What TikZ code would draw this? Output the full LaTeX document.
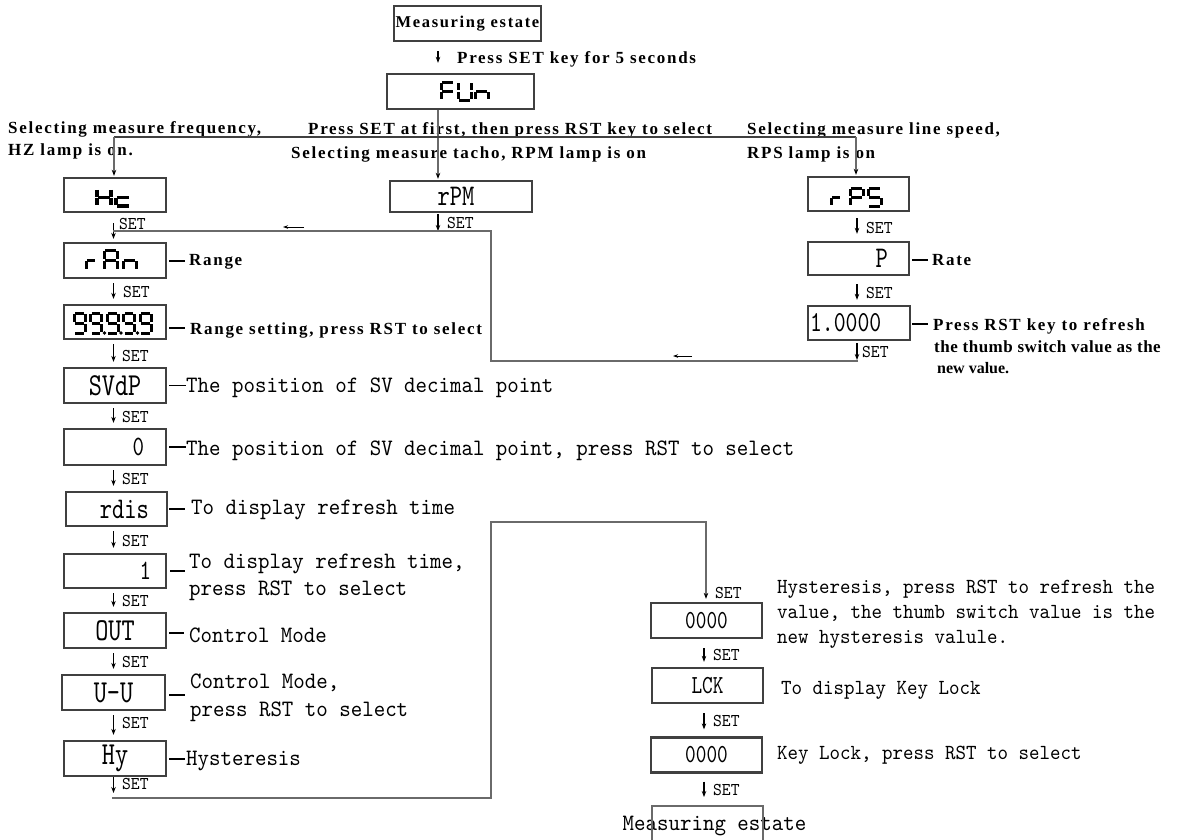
\documentclass[tikz,border=0pt]{standalone}
\usepackage{fontspec}
\setmainfont{Liberation Serif}
\newfontfamily\bfnt[LetterSpace=10]{Liberation Serif}
\newfontfamily\bfntm[LetterSpace=3]{Liberation Serif}
\newfontfamily\bfntz[LetterSpace=0]{Liberation Serif}
\newfontfamily\mfnt[FakeStretch=0.93]{lmmono10-regular.otf}
\newfontfamily\dfnt[FakeStretch=0.78]{lmmono10-regular.otf}
\usetikzlibrary{arrows.meta,calc}
\definecolor{boxc}{HTML}{404040}
\definecolor{linec}{HTML}{6A6A6A}
\newcommand\btf{\bfnt\bfseries\fontsize{17}{20}\selectfont}
\newcommand\btfm{\bfntm\bfseries\fontsize{17}{20}\selectfont}
\newcommand\btfz{\bfntz\bfseries\fontsize{16}{20}\selectfont}
\newcommand\mtf{\mfnt\fontsize{23.5}{26}\selectfont}
\newcommand\mtfs{\mfnt\fontsize{21.5}{24}\selectfont}
\newcommand\stf{\mfnt\fontsize{18}{18}\selectfont}
\newcommand\dtf[1]{\dfnt\fontsize{#1}{#1}\selectfont}
% seven-segment glyphs: segments as x1/y1/x2/y2 in a 1 x 2 cell
\newcommand\sgA{0/0/1/0,1/0/1/1,1/1/1/2,0/1/0/2,0/0/0/1,0/1/1/1}
\newcommand\sgC{0/2/1/2,0/1/0/2,0/1/1/1}
\newcommand\sgF{0/0/1/0,0/0/0/1,0/1/0/2,0/1/1/1}
\newcommand\sgH{1/0/1/1,1/1/1/2,0/1/0/2,0/0/0/1,0/1/1/1}
\newcommand\sgN{1/1/1/2,0/1/0/2,0/1/1/1}
\newcommand\sgP{0/0/1/0,1/0/1/1,0/1/0/2,0/0/0/1,0/1/1/1}
\newcommand\sgR{0/1/0/2,0/1/1/1}
\newcommand\sgS{0/0/1/0,1/1/1/2,0/2/1/2,0/0/0/1,0/1/1/1}
\newcommand\sgU{1/0/1/1,1/1/1/2,0/2/1/2,0/1/0/2,0/0/0/1}
\newcommand\sgNine{0/0/1/0,1/0/1/1,1/1/1/2,0/2/1/2,0/0/0/1,0/1/1/1}
\newcommand\sevseg[5]{\foreach \qa/\qb/\qc/\qd in #5 {\draw[segs] ({#1+\qa*#3},{#2+\qb*#4}) -- ({#1+\qc*#3},{#2+\qd*#4});}}
\tikzset{
  dbox/.style={draw=boxc, line width=2.3pt, inner sep=0pt},
  conn/.style={draw=linec, line width=1.3pt},
  garr/.style={conn, -{Stealth[length=6pt,width=4.5pt,black]}},
  arr/.style={draw=black, line width=1.1pt, -{Stealth[length=6pt,width=4.5pt]}},
  larr/.style={arr, shorten <=4pt, shorten >=5pt},
  sarr/.style={draw=black, line width=1pt, -{Stealth[length=5pt,width=3.5pt]}},
  dsh/.style={draw=black, line width=1.1pt},
  segs/.style={draw=black, line width=3pt, shorten <=1.3pt, shorten >=1.3pt},
  btxt/.style={font=\btf, inner sep=0pt, anchor=base west},
  mtxt/.style={font=\mtf, inner sep=0pt, anchor=base west},
  ntxt/.style={font=\mtfs, inner sep=0pt, anchor=base west},
  setl/.style={font=\stf, inner sep=0pt, anchor=base west},
}
\begin{document}
\begin{tikzpicture}[x=1pt, y=-1pt]
\fill[white] (0,0) rectangle (1178,839);
\useasboundingbox (0,0) rectangle (1178,839);

% ---------- boxes ----------
\node[dbox, minimum width=147pt, minimum height=35pt, font={\bfnt\bfseries\fontsize{16.5}{20}\selectfont}] (me) at (467.5,23.5) {Measuring estate};
\node[dbox, minimum width=147pt, minimum height=35pt] (fun) at (460.5,91.5) {};
\node[dbox, minimum width=102pt, minimum height=34pt] (hc) at (115,195) {};
\node[dbox, minimum width=142pt, minimum height=31pt, font={\dtf{30}}] (rpm) at (461,196.5) {rPM\hspace*{10pt}};
\node[dbox, minimum width=101pt, minimum height=34pt] (rps) at (858.5,194) {};
\node[dbox, minimum width=102pt, minimum height=35pt] (ran) at (115,260.5) {};
\node[dbox, minimum width=102pt, minimum height=34pt] (rng) at (115,322) {};
\node[dbox, minimum width=102pt, minimum height=35pt, font={\dtf{32}}] (svdp) at (115,385.5) {SVdP};
\node[dbox, minimum width=102pt, minimum height=36pt, font={\dtf{28}}] (zero) at (115,447) {\makebox[58pt][r]{0}};
\node[dbox, minimum width=101pt, minimum height=34pt, font={\dtf{30}}] (rdis) at (116.5,509) {\makebox[65pt][r]{rdis}};
\node[dbox, minimum width=102pt, minimum height=34pt, font={\dtf{28}}] (one) at (115,571) {\makebox[72pt][r]{1}};
\node[dbox, minimum width=102pt, minimum height=35pt, font={\dtf{32}}] (out) at (115,630.5) {OUT};
\node[dbox, minimum width=103pt, minimum height=35pt, font={\dtf{32}}] (uu) at (113.5,692.5) {U-U};
\node[dbox, minimum width=102pt, minimum height=35pt, font={\dtf{32}}] (hy) at (115,758.5) {Hy};
\node[dbox, minimum width=101pt, minimum height=33pt, font={\dtf{30}}] (p) at (858.5,258.5) {\makebox[59pt][r]{P}};
\node[dbox, minimum width=102pt, minimum height=34pt, font={\dtf{29}}] (onek) at (859,323) {\makebox[98pt][l]{1.0000}};
\node[dbox, minimum width=111pt, minimum height=35pt, font={\dtf{26}}] (hys) at (706.5,620.5) {0000};
\node[dbox, minimum width=111pt, minimum height=35pt, font={\dtf{26}}] (lck) at (707.5,685.5) {LCK};
\node[dbox, minimum width=111pt, minimum height=35pt, font={\dtf{26}}] (lock) at (706.5,755) {0000};
\node[mtxt, anchor=base] (endtxt) at (714.5,830) {Measuring estate};
\node[draw=linec, line width=2pt, minimum width=111pt, minimum height=50pt] (endbox) at (707.5,831) {};

% ---------- seven-segment glyphs ----------
\sevseg{441}{82}{13}{9}{\sgF}
\sevseg{458}{82}{13}{9}{\sgU}
\sevseg{475}{82}{13}{9}{\sgN}
\begin{scope}[segs/.append style={line width=3.4pt, shorten <=0.8pt, shorten >=0.8pt}]
\sevseg{97}{189}{14}{8.5}{\sgH}
\sevseg{116}{189}{14}{8.5}{\sgC}
\end{scope}
\sevseg{86}{250}{10}{10}{\sgR}
\sevseg{104}{250}{13}{10}{\sgA}
\sevseg{123}{250}{13}{10}{\sgN}
\foreach \gx in {74,90.5,107,123.5,140} {\sevseg{\gx}{313}{11}{10}{\sgNine}}
\foreach \gx in {104.5,121,137.5} {\fill (\gx,333) circle (1.8);}
\sevseg{831}{188}{10}{9}{\sgR}
\sevseg{850}{188}{13}{9}{\sgP}
\sevseg{868}{188}{13}{9}{\sgS}

% ---------- bold texts ----------
\node[btxt] (t1) at (457,63) {Press SET key for 5 seconds};
\node[btxt] (t2) at (8,133) {Selecting measure frequency,};
\node[btxt] (t3) at (8,155) {HZ lamp is on.};
\node[btxt] (t4) at (308,134) {Press SET at first, then press RST key to select};
\node[btxt] (t5) at (291,158) {Selecting measure tacho, RPM lamp is on};
\node[btxt] (t6) at (747,134) {Selecting measure line speed,};
\node[btxt] (t7) at (747,158) {RPS lamp is on};
\node[btxt] (t8) at (189,265) {Range};
\node[btxt] (t9) at (190,334) {Range setting, press RST to select};
\node[btxt] (t10) at (932,265) {Rate};
\node[btxt] (t11a) at (933,330) {Press RST key to refresh};
\node[btxt, font=\btfm] (t11b) at (934,352) {the thumb switch value as the};
\node[btxt, font=\btfz] (t11c) at (937,373) {new value.};

% ---------- plain texts ----------
\node[mtxt] (m1) at (186,392) {The position of SV decimal point};
\node[mtxt] (m2) at (186,455) {The position of SV decimal point, press RST to select};
\node[mtxt] (m3) at (191,514) {To display refresh time};
\node[mtxt] (m4a) at (189,568) {To display refresh time,};
\node[mtxt] (m4b) at (189,595) {press RST to select};
\node[mtxt] (m5) at (189,642) {Control Mode};
\node[mtxt] (m6a) at (190,688) {Control Mode,};
\node[mtxt] (m6b) at (190,716) {press RST to select};
\node[mtxt] (m7) at (186,765) {Hysteresis};
\node[ntxt] (n1a) at (777,593) {Hysteresis, press RST to refresh the};
\node[ntxt] (n1b) at (777,618) {value, the thumb switch value is the};
\node[ntxt] (n1c) at (777,643) {new hysteresis valule.};
\node[ntxt] (n2) at (781,694) {To display Key Lock};
\node[ntxt] (n3) at (777,759) {Key Lock, press RST to select};

% ---------- SET labels ----------
\foreach \sx/\sy in {119/229,123/297,122/361,122/422,122/484,122/546,122/606,122/667,122/728,122/789,447/228,866/233,866/298,862/357,715/598,713/660,713/726,713/795}
  {\node[setl] at (\sx,\sy) {SET};}

% ---------- coordinates ----------
\coordinate (tx) at (438,0);
\coordinate (ax) at (113.5,0);
\coordinate (rx) at (857,0);
\coordinate (bx) at (704,0);
\coordinate (jL) at (114,137);
\coordinate (jR) at (856,137);
\coordinate (cR1) at (858,361);
\coordinate (cR2) at (491,361);
\coordinate (cR3) at (491,231);
\coordinate (cR4) at (113,231);
\coordinate (cB1) at (112,798);
\coordinate (cB2) at (491,798);
\coordinate (cB3) at (491,522);
\coordinate (cB4) at (706,522);
\coordinate (la1s) at (304,227);
\coordinate (la1e) at (283,227);
\coordinate (la2s) at (692,356);
\coordinate (la2e) at (673,356);

% ---------- connectors ----------
\draw[arr, shorten <=9pt, shorten >=10pt] (me.south -| tx) -- (fun.north -| tx);
\draw[garr, shorten >=1pt] (fun.south -| tx) -- (rpm.north -| tx);
\draw[conn, line width=2pt, draw=boxc] (jL) -- (jR);
\draw[garr, shorten >=1pt] (jL) -- (jL |- hc.north);
\draw[garr, shorten >=1pt] (jR) -- (jR |- rps.north);

\draw[arr, shorten <=10pt, shorten >=3pt] (hc.south -| ax) -- (ran.north -| ax);
\foreach \a/\b in {ran/rng,rng/svdp,svdp/zero,zero/rdis,rdis/one,one/out,out/uu,uu/hy}
  {\draw[larr] (\a.south -| ax) -- (\b.north -| ax);}
\draw[arr] (hy.south -| ax) -- ($(cB1 -| ax)+(0,-5)$);

\draw[arr, shorten <=1pt] (rpm.south -| tx) -- (cR4 -| tx);
\draw[conn] (cR1) -- (cR2) -- (cR3) -- (cR4);
\draw[sarr] (la1s) -- (la1e);
\draw[sarr] (la2s) -- (la2e);

\draw[arr, shorten <=6pt, shorten >=7pt] (rps.south -| rx) -- (p.north -| rx);
\draw[arr, shorten <=8pt, shorten >=5pt] (p.south -| rx) -- (onek.north -| rx);
\draw[arr, shorten <=2pt] (onek.south -| rx) -- ($(cR1 -| rx)+(0,-1)$);

\draw[garr, shorten >=3pt] (cB1) -- (cB2) -- (cB3) -- (cB4) -- (cB4 |- hys.north);
\draw[arr, shorten <=9pt, shorten >=5pt] (hys.south -| bx) -- (lck.north -| bx);
\draw[arr, shorten <=9pt, shorten >=7pt] (lck.south -| bx) -- (lock.north -| bx);
\draw[arr, shorten <=8pt, shorten >=8pt] (lock.south -| bx) -- (endbox.north -| bx);

% ---------- leader dashes ----------
\draw[dsh] ($(ran.east)+(2,0.5)$) -- ++(16,0);
\draw[dsh] ($(rng.east)+(2,6)$) -- ++(16,0);
\draw[dsh] ($(svdp.east)+(2,0)$) -- (m1.west |- svdp.east);
\draw[dsh] ($(zero.east)+(2,0)$) -- (m2.west |- zero.east);
\draw[dsh] ($(rdis.east)+(1,0)$) -- ++(16,0);
\draw[dsh] ($(one.east)+(3,0)$) -- ++(15,0);
\draw[dsh] ($(out.east)+(2,2.5)$) -- ++(15,0);
\draw[dsh] ($(uu.east)+(3,2.5)$) -- ++(16,0);
\draw[dsh] ($(hy.east)+(2,0.5)$) -- ++(16,0);
\draw[dsh] ($(p.east)+(2,1.5)$) -- ++(16,0);
\draw[dsh] ($(onek.east)+(1,1)$) -- ++(16,0);
\end{tikzpicture}
\end{document}
